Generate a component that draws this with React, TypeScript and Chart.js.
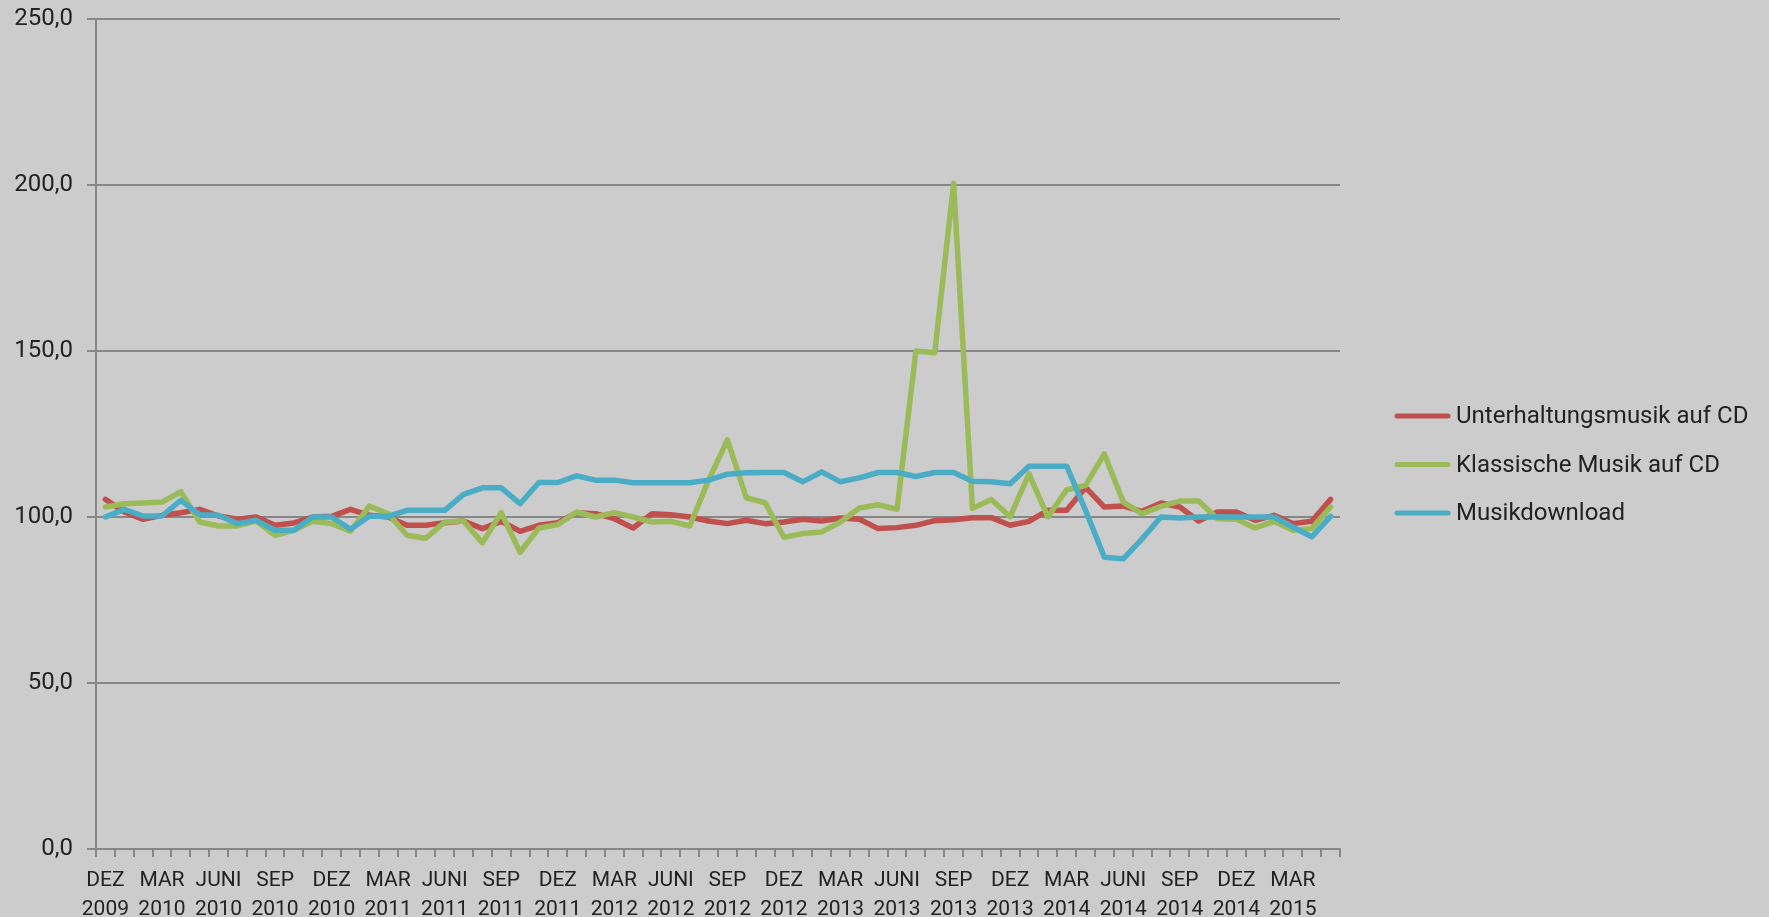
import { useEffect, useRef } from 'react';
import { Chart, registerables } from 'chart.js';

Chart.register(...registerables);

const categories = [
  'DEZ 2009',
  'JAN 2010', 'FEB 2010', 'MAR 2010', 'APR 2010', 'MAI 2010', 'JUNI 2010', 'JULI 2010', 'AUG 2010', 'SEP 2010', 'OKT 2010', 'NOV 2010', 'DEZ 2010',
  'JAN 2011', 'FEB 2011', 'MAR 2011', 'APR 2011', 'MAI 2011', 'JUNI 2011', 'JULI 2011', 'AUG 2011', 'SEP 2011', 'OKT 2011', 'NOV 2011', 'DEZ 2011',
  'JAN 2012', 'FEB 2012', 'MAR 2012', 'APR 2012', 'MAI 2012', 'JUNI 2012', 'JULI 2012', 'AUG 2012', 'SEP 2012', 'OKT 2012', 'NOV 2012', 'DEZ 2012',
  'JAN 2013', 'FEB 2013', 'MAR 2013', 'APR 2013', 'MAI 2013', 'JUNI 2013', 'JULI 2013', 'AUG 2013', 'SEP 2013', 'OKT 2013', 'NOV 2013', 'DEZ 2013',
  'JAN 2014', 'FEB 2014', 'MAR 2014', 'APR 2014', 'MAI 2014', 'JUNI 2014', 'JULI 2014', 'AUG 2014', 'SEP 2014', 'OKT 2014', 'NOV 2014', 'DEZ 2014',
  'JAN 2015', 'FEB 2015', 'MAR 2015', 'APR 2015', 'MAI 2015',
];

const unterhaltungsmusik = [
  105.3,
  101.5, 99.3, 100.5, 101.3, 102.3, 100.3, 99.3, 100.0, 97.5, 98.2, 100.0, 100.2,
  102.3, 100.5, 100.0, 97.5, 97.5, 98.3, 98.8, 96.5, 98.7, 95.7, 97.5, 98.3,
  101.3, 101.0, 99.5, 96.7, 101.0, 100.7, 100.0, 98.8, 98.0, 99.0, 98.0, 98.5,
  99.3, 98.8, 99.7, 99.3, 96.5, 96.8, 97.5, 98.9, 99.2, 99.8, 99.8, 97.5,
  98.7, 102.0, 102.0, 108.9, 103.0, 103.3, 101.7, 104.2, 103.0, 98.8, 101.5, 101.5,
  99.0, 100.5, 98.0, 98.7, 105.3,
];

const klassischeMusik = [
  103.0,
  104.0, 104.2, 104.5, 107.6, 98.5, 97.3, 97.3, 98.8, 94.5, 96.0, 98.7, 98.0,
  95.7, 103.3, 101.0, 94.5, 93.6, 98.5, 98.8, 92.2, 101.3, 89.4, 96.7, 97.7,
  101.5, 100.0, 101.3, 100.0, 98.5, 98.7, 97.3, 111.1, 123.2, 105.8, 104.3, 93.9,
  95.0, 95.5, 98.5, 102.7, 103.7, 102.3, 150.0, 149.5, 200.5, 102.6, 105.3, 100.1,
  113.0, 100.0, 108.2, 109.5, 119.0, 104.5, 101.0, 103.2, 104.8, 104.8, 99.5, 99.3,
  96.7, 98.7, 96.0, 96.5, 103.0,
];

const musikdownload = [
  100.0,
  102.3, 100.3, 100.3, 105.0, 100.7, 100.5, 98.0, 99.0, 96.0, 96.0, 100.0, 100.0,
  96.3, 100.2, 100.2, 102.0, 102.0, 102.0, 106.8, 108.8, 108.8, 104.0, 110.4, 110.4,
  112.4, 111.1, 111.1, 110.3, 110.3, 110.3, 110.3, 111.1, 112.9, 113.3, 113.4, 113.4,
  110.6, 113.6, 110.6, 111.8, 113.4, 113.4, 112.2, 113.4, 113.4, 110.8, 110.6, 110.0,
  115.3, 115.3, 115.3, 102.0, 87.9, 87.4, 93.4, 100.0, 99.7, 100.0, 100.0, 100.0,
  100.0, 100.0, 97.0, 94.0, 100.2,
];

const seriesNames = ['Unterhaltungsmusik auf CD', 'Klassische Musik auf CD', 'Musikdownload'];
const seriesColors = ['#C0504D', '#9BBB59', '#4BACC6'];

const GRID = '#878787';
const TEXT = '#222222';
const FONT = 'Roboto, "Noto Sans", "DejaVu Sans", sans-serif';

const sideLegend = {
  id: 'sideLegend',
  afterDraw(chart: any) {
    const ctx = chart.ctx;
    const area = chart.chartArea;
    ctx.save();
    chart.data.datasets.forEach((ds: any, i: number) => {
      const y = 416 + i * 48.5;
      const x0 = area.right + 57;
      ctx.strokeStyle = ds.borderColor;
      ctx.lineWidth = 5;
      ctx.lineCap = 'round';
      ctx.beginPath();
      ctx.moveTo(x0, y);
      ctx.lineTo(x0 + 51, y);
      ctx.stroke();
      ctx.fillStyle = TEXT;
      ctx.font = `24px ${FONT}`;
      ctx.textBaseline = 'middle';
      ctx.textAlign = 'left';
      ctx.fillText(ds.label, x0 + 59, y + 1);
    });
    ctx.restore();
  },
};

export default function App() {
  const canvasRef = useRef<HTMLCanvasElement | null>(null);

  useEffect(() => {
    const canvas = canvasRef.current;
    if (!canvas) return;
    const values = [unterhaltungsmusik, klassischeMusik, musikdownload];
    const chart = new Chart(canvas, {
      type: 'line',
      data: {
        labels: categories,
        datasets: values.map((v, i) => ({
          label: seriesNames[i],
          data: v,
          borderColor: seriesColors[i],
          backgroundColor: seriesColors[i],
          borderWidth: 5.5,
          pointRadius: 0,
          pointHoverRadius: 0,
          tension: 0,
          fill: false,
          borderJoinStyle: 'round' as const,
          borderCapStyle: 'round' as const,
          order: 3 - i,
        })),
      },
      options: {
        responsive: false,
        animation: false,
        layout: { padding: { top: 19, right: 429, left: 0, bottom: 0 } },
        plugins: {
          legend: { display: false },
          tooltip: { enabled: false },
        },
        scales: {
          x: {
            type: 'category',
            offset: true,
            afterFit: (scale: any) => {
              scale.height = 68;
              scale.paddingLeft = 0;
              scale.paddingRight = 0;
            },
            grid: {
              offset: true,
              drawOnChartArea: false,
              drawTicks: true,
              tickLength: 8,
              color: GRID,
              lineWidth: 2,
            },
            border: { display: true, color: GRID, width: 2 },
            ticks: {
              autoSkip: false,
              maxRotation: 0,
              minRotation: 0,
              padding: 9,
              color: TEXT,
              font: { family: FONT, size: 21, lineHeight: 1.38 },
              callback: (_v: any, index: number) =>
                index % 3 === 0 ? categories[index].split(' ') : '',
            },
          },
          y: {
            min: 0,
            max: 250,
            afterFit: (scale: any) => {
              scale.width = 96;
              scale.paddingTop = 0;
              scale.paddingBottom = 0;
            },
            grid: {
              color: GRID,
              lineWidth: 2,
              drawTicks: true,
              tickLength: 9,
            },
            border: { display: true, color: GRID, width: 2 },
            ticks: {
              stepSize: 50,
              padding: 14,
              color: TEXT,
              font: { family: FONT, size: 24 },
              callback: (v: any) => Number(v).toFixed(1).replace('.', ','),
            },
          },
        },
      },
      plugins: [sideLegend],
    });
    if ((document as any).fonts && (document as any).fonts.ready) {
      (document as any).fonts.ready.then(() => chart.update());
    }
    return () => chart.destroy();
  }, []);

  return (
    <div
      style={{
        position: 'absolute',
        left: 0,
        top: 0,
        width: 1769,
        height: 917,
        background: '#cccccc',
        overflow: 'hidden',
      }}
    >
      <canvas ref={canvasRef} width={1769} height={917} style={{ display: 'block' }} />
    </div>
  );
}
